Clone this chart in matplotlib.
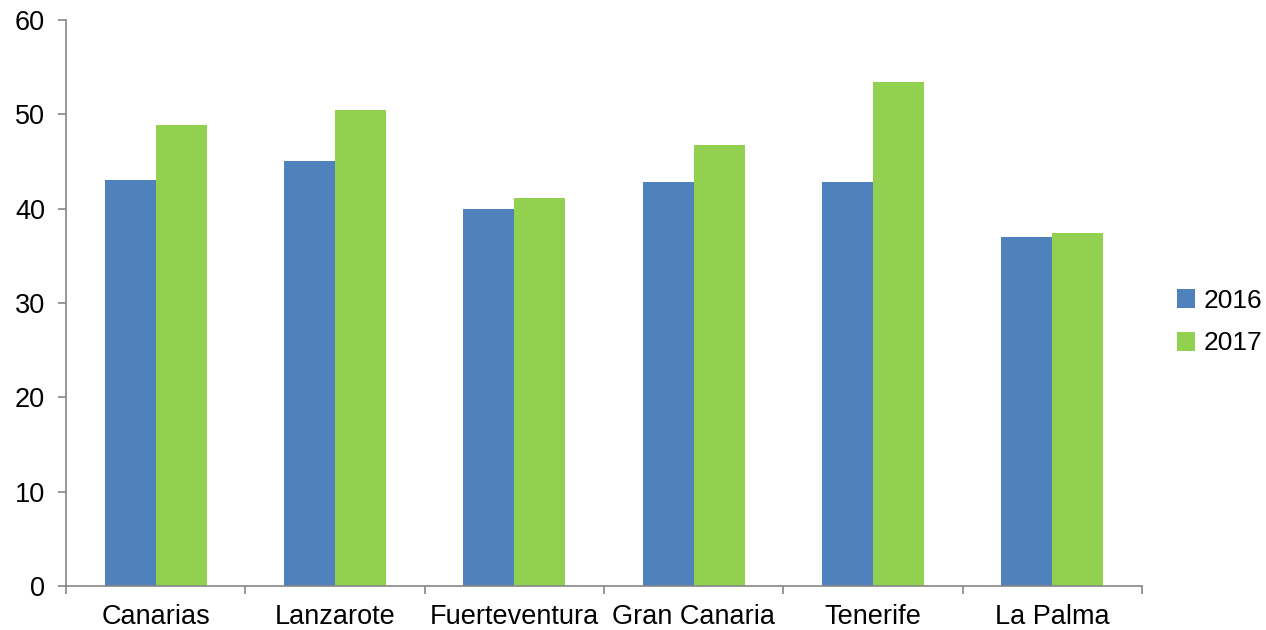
import matplotlib
matplotlib.use("Agg")
import matplotlib.pyplot as plt
import numpy as np

categories = ["Canarias", "Lanzarote", "Fuerteventura", "Gran Canaria", "Tenerife", "La Palma"]
v2016 = [43.0, 45.1, 40.0, 42.8, 42.8, 37.0]
v2017 = [48.9, 50.5, 41.1, 46.7, 53.4, 37.4]
yticks = [0, 10, 20, 30, 40, 50, 60]

plt.rcParams['font.family'] = ['Liberation Sans', 'DejaVu Sans']
FS = 19.5

fig = plt.figure(figsize=(12.66, 6.3), dpi=100)
ax = fig.add_axes([66/1266, 44/630, (1142-66)/1266, (586-20)/630])

x = np.arange(len(categories))
w = 0.285
ax.bar(x - w/2, v2016, width=w, color="#4F81BD", label="2016")
ax.bar(x + w/2, v2017, width=w, color="#92D050", label="2017")

ax.set_xlim(-0.5, len(categories) - 0.5)
ax.set_ylim(0, 60)
ax.set_yticks(yticks)
ax.set_yticklabels([str(t) for t in yticks], fontsize=FS)
ax.set_xticks(x)
ax.set_xticklabels(categories, fontsize=FS)
ax.set_xticks(np.arange(len(categories) + 1) - 0.5, minor=True)
ax.tick_params(axis='x', which='major', length=0, pad=13)
ax.tick_params(axis='x', which='minor', length=6, color="#868686", width=1.2)
ax.tick_params(axis='y', length=6, color="#868686", width=1.2, pad=9)

for s in ['top', 'right']:
    ax.spines[s].set_visible(False)
for s in ['left', 'bottom']:
    ax.spines[s].set_color("#868686")
    ax.spines[s].set_linewidth(1.2)

leg = fig.legend(loc='center left', bbox_to_anchor=(1177/1266, 1 - 322/630), frameon=False,
                 fontsize=19, handlelength=0.7, handleheight=0.7, handletextpad=0.3,
                 labelspacing=0.72, borderpad=0, borderaxespad=0)

fig.savefig("out.png", dpi=100)
